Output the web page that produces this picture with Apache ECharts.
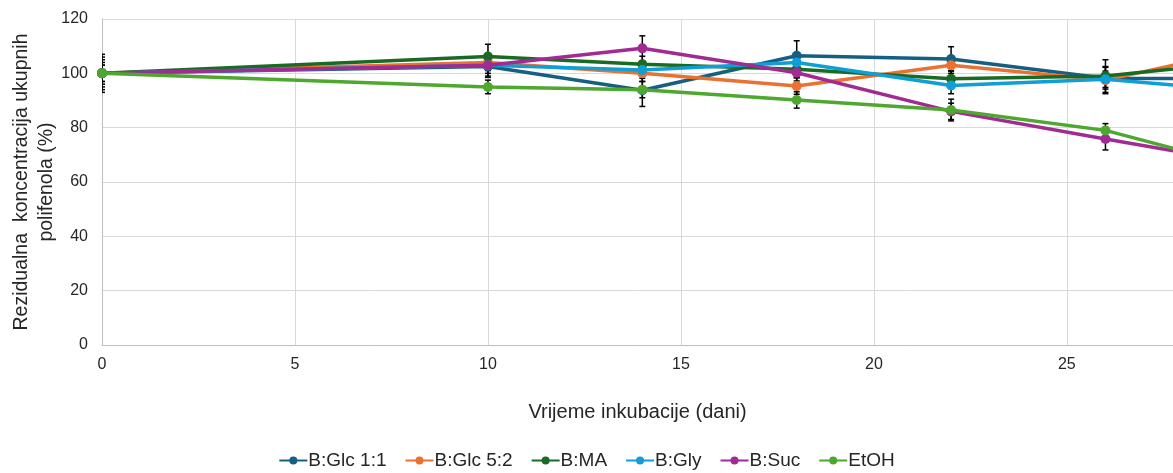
<!DOCTYPE html>
<html><head><meta charset="utf-8">
<script src="https://cdn.jsdelivr.net/npm/echarts@6/dist/echarts.min.js"></script>
<style>html,body{margin:0;padding:0;background:#fff}#c{width:1173px;height:473px}</style>
</head><body><div id="c"></div>
<script>
const days = [0, 10, 14, 18, 22, 26, 30];
const names = ['B:Glc 1:1', 'B:Glc 5:2', 'B:MA', 'B:Gly', 'B:Suc', 'EtOH'];
const colors = ['#156082', '#E97132', '#196B24', '#0F9ED5', '#A02B93', '#4EA72E'];
const glc11 = [100, 102.5, 93.8, 106.5, 105.3, 98.2, 98];
const glc52 = [100, 104, 100, 95.3, 103, 97.5, 110];
const ma    = [100, 106.2, 103.3, 101.5, 98, 99, 105];
const gly   = [100, 103, 101.2, 104, 95.5, 97.8, 93];
const suc   = [100, 103, 109.2, 100.2, 86, 75.8, 66];
const etoh  = [100, 95, 94, 90.2, 86.5, 79, 64];
const errGlc11 = [6, 4, 6, 5.5, 4.5, 4, 3];
const errGlc52 = [5, 3, 3, 3, 3, 5, 3];
const errMa    = [7, 4.5, 3, 3, 3, 6, 3];
const errGly   = [4, 4, 3, 3, 3, 3, 3];
const errSuc   = [3, 3, 4.6, 3, 3, 4, 3];
const errEtoh  = [3, 2.5, 3, 3, 4, 2.5, 2];
const yTicks = [0, 20, 40, 60, 80, 100, 120];

const values = [glc11, glc52, ma, gly, suc, etoh];
const errs = [errGlc11, errGlc52, errMa, errGly, errSuc, errEtoh];

const series = [];
values.forEach((vals, i) => {
  series.push({
    type: 'custom', name: names[i] + ' err', z: 1,
    data: days.map((d, k) => [d, vals[k] - errs[i][k], vals[k] + errs[i][k]]),
    renderItem: function (params, api) {
      const lo = api.coord([api.value(0), api.value(1)]);
      const hi = api.coord([api.value(0), api.value(2)]);
      const w = 3;
      const st = { stroke: '#000', lineWidth: 1.5 };
      return { type: 'group', children: [
        { type: 'line', shape: { x1: lo[0], y1: lo[1], x2: hi[0], y2: hi[1] }, style: st },
        { type: 'line', shape: { x1: lo[0] - w, y1: lo[1], x2: lo[0] + w, y2: lo[1] }, style: st },
        { type: 'line', shape: { x1: hi[0] - w, y1: hi[1], x2: hi[0] + w, y2: hi[1] }, style: st }
      ]};
    },
    clip: true, silent: true
  });
});
values.forEach((vals, i) => {
  series.push({
    type: 'line', name: names[i], z: 2 + i,
    data: days.map((d, k) => [d, vals[k]]),
    symbol: 'circle', symbolSize: 10,
    lineStyle: { width: 3.5, color: colors[i] },
    itemStyle: { color: colors[i] },
    clip: true, animation: false
  });
});

const chart = echarts.init(document.getElementById('c'));
chart.setOption({
  animation: false,
  color: colors,
  grid: { left: 102, right: 0, top: 19, bottom: 128, containLabel: false, outerBoundsMode: 'none' },
  xAxis: {
    type: 'value', min: 0, max: 27.75, interval: 5,
    name: 'Vrijeme inkubacije (dani)', nameLocation: 'middle', nameGap: 57, nameMoveOverlap: false,
    nameTextStyle: { fontFamily: 'Liberation Sans', fontSize: 20, color: '#262626' },
    axisLine: { show: true, lineStyle: { color: '#bfbfbf', width: 1 } },
    axisTick: { show: false },
    axisLabel: { fontFamily: 'Liberation Sans', fontSize: 16, color: '#262626', margin: 12, showMaxLabel: false },
    splitLine: { show: true, lineStyle: { color: '#d9d9d9', width: 1 } }
  },
  yAxis: {
    type: 'value', min: yTicks[0], max: yTicks[yTicks.length - 1], interval: 20,
    name: 'Rezidualna  koncentracija ukupnih\npolifenola (%)', nameLocation: 'middle', nameGap: 43, nameMoveOverlap: false,
    nameTextStyle: { fontFamily: 'Liberation Sans', fontSize: 19.5, color: '#262626', lineHeight: 25 },
    axisLine: { show: true, lineStyle: { color: '#bfbfbf', width: 1 } },
    axisTick: { show: false },
    axisLabel: { fontFamily: 'Liberation Sans', fontSize: 16, color: '#262626', margin: 14 },
    splitLine: { show: true, lineStyle: { color: '#d9d9d9', width: 1 } }
  },
  legend: {
    data: names, top: 446, left: 'center', itemGap: 18, itemWidth: 28, itemHeight: 10,
    textStyle: { fontFamily: 'Liberation Sans Narrow, Liberation Sans', fontSize: 19, color: '#262626', padding: [0, 0, 0, -4] }
  },
  series: series
});
</script></body></html>
